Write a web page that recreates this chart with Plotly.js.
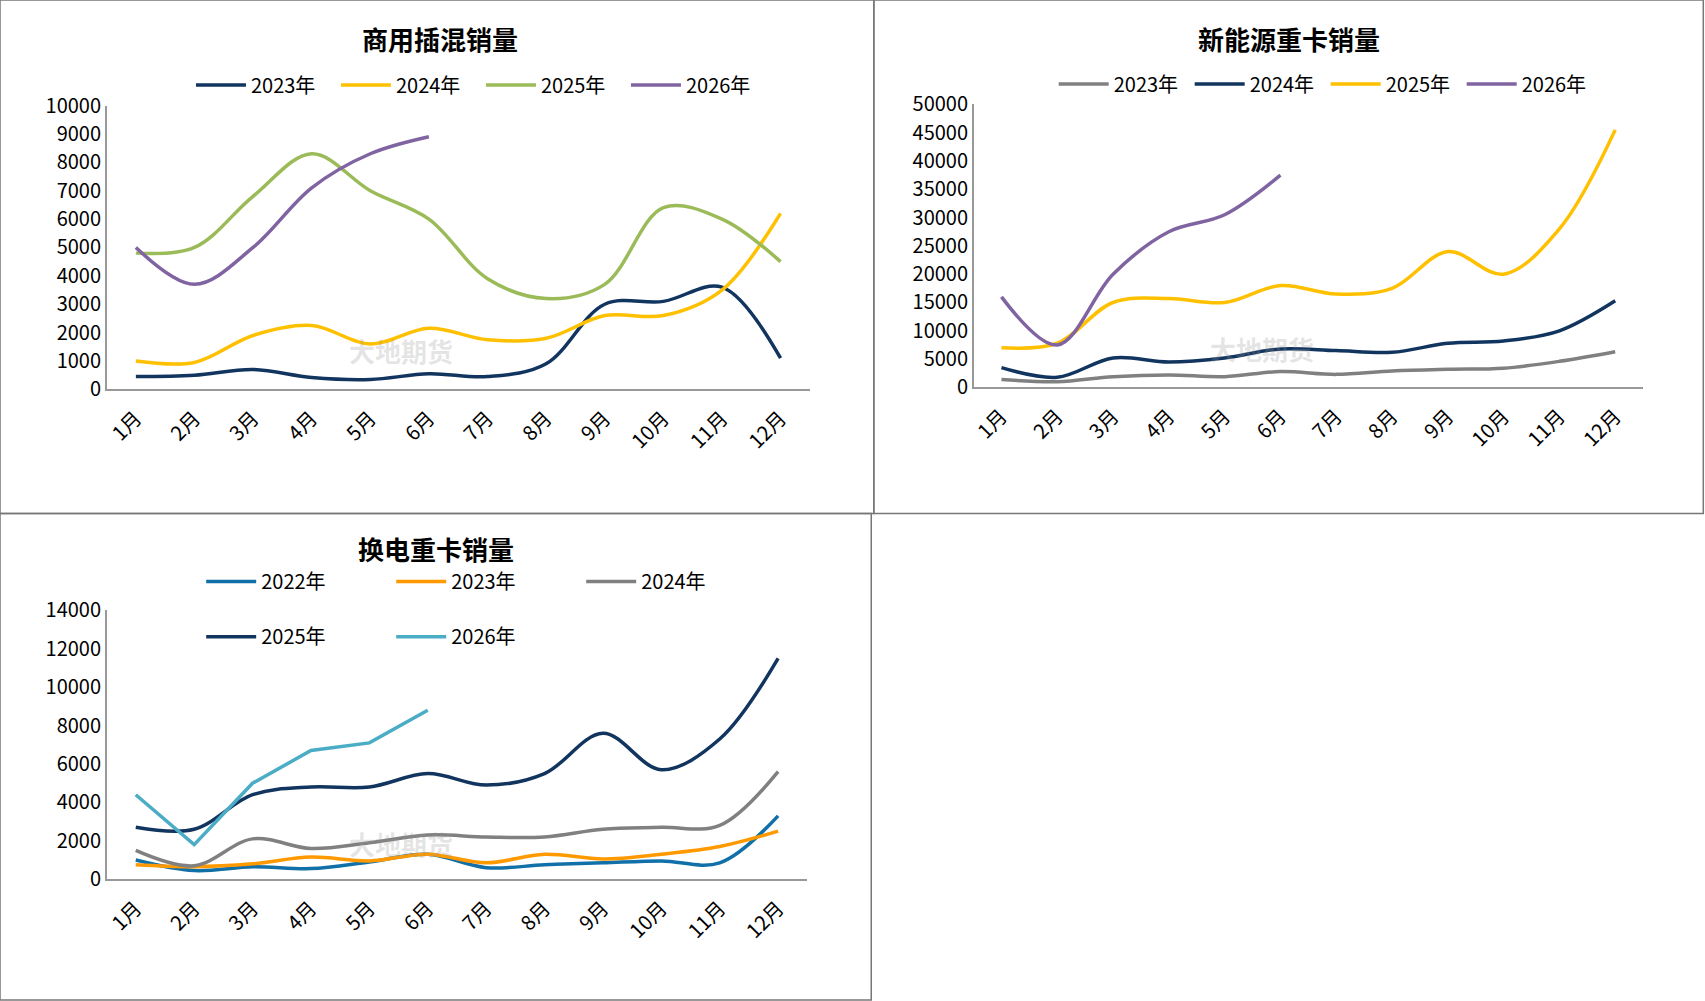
<!doctype html>
<html>
<head>
<meta charset="utf-8">
<script src="https://cdn.plot.ly/plotly-3.0.1.min.js"></script>
<style>body{margin:0;background:#fff}</style>
</head>
<body>
<div id="chart" style="width:1705px;height:1001px"></div>
<script>
var months = ['1月','2月','3月','4月','5月','6月','7月','8月','9月','10月','11月','12月'];

// 商用插混销量
var phev2023 = [450, 500, 700, 420, 350, 550, 450, 900, 3000, 3100, 3600, 1100];
var phev2024 = [1000, 950, 1900, 2250, 1600, 2150, 1750, 1800, 2600, 2600, 3500, 6200];
var phev2025 = [4800, 5000, 6800, 8300, 7000, 6000, 3900, 3200, 3700, 6400, 6000, 4500];
var phev2026 = [5000, 3700, 5000, 7100, 8300, 8900];

// 新能源重卡销量
var nev2023 = [1400, 1000, 1900, 2200, 1900, 2800, 2300, 2900, 3200, 3400, 4600, 6300];
var nev2024 = [3500, 1800, 5200, 4500, 5200, 6800, 6500, 6200, 7800, 8200, 10000, 15300];
var nev2025 = [7000, 7800, 15000, 15700, 15000, 18000, 16500, 17500, 24000, 20000, 28000, 45500];
var nev2026 = [16000, 7500, 20000, 27500, 30500, 37500];

// 换电重卡销量
var swap2022 = [1000, 450, 650, 550, 900, 1300, 600, 750, 850, 950, 850, 3300];
var swap2023 = [750, 650, 800, 1150, 950, 1300, 850, 1300, 1050, 1300, 1700, 2500];
var swap2024 = [1500, 700, 2100, 1600, 1900, 2300, 2200, 2200, 2600, 2700, 2800, 5600];
var swap2025 = [2700, 2600, 4400, 4800, 4800, 5500, 4900, 5500, 7600, 5700, 7300, 11500];
var swap2026 = [4400, 1800, 5000, 6700, 7100, 8800];

var NAVY = '#12355f', GOLD = '#ffc000', GREEN = '#9bbb59', PURPLE = '#8064a2', GREY = '#808080';

function tr(name, y, color, xa, ya, leg, shape) {
  return {x: months.slice(0, y.length), y: y, name: name, type: 'scatter', mode: 'lines',
    line: {color: color, width: 3.5, shape: shape || 'spline', smoothing: 1},
    xaxis: xa, yaxis: ya, legend: leg};
}

var data = [
  tr('2023年', phev2023, NAVY, 'x', 'y', 'legend'),
  tr('2024年', phev2024, GOLD, 'x', 'y', 'legend'),
  tr('2025年', phev2025, GREEN, 'x', 'y', 'legend'),
  tr('2026年', phev2026, PURPLE, 'x', 'y', 'legend'),
  tr('2023年', nev2023, GREY, 'x2', 'y2', 'legend2'),
  tr('2024年', nev2024, NAVY, 'x2', 'y2', 'legend2'),
  tr('2025年', nev2025, GOLD, 'x2', 'y2', 'legend2'),
  tr('2026年', nev2026, PURPLE, 'x2', 'y2', 'legend2'),
  tr('2022年', swap2022, '#1170a8', 'x3', 'y3', 'legend3'),
  tr('2023年', swap2023, '#ff9900', 'x3', 'y3', 'legend3'),
  tr('2024年', swap2024, GREY, 'x3', 'y3', 'legend3'),
  tr('2025年', swap2025, NAVY, 'x3', 'y3', 'legend4'),
  tr('2026年', swap2026, '#4bacc6', 'x3', 'y3', 'legend4', 'linear')
];

var F = 'Noto Sans CJK SC, sans-serif';
function xax(dom, anchor) {
  return {domain: dom, anchor: anchor, type: 'category', range: [-0.5, 11.5], tickangle: -45,
    showline: true, linecolor: '#999', linewidth: 1.5, showgrid: false, ticks: '',
    ticklabelstandoff: 8, tickfont: {size: 20, color: '#000'}, automargin: false};
}
function yax(dom, anchor, max, dtick) {
  return {domain: dom, anchor: anchor, range: [0, max], dtick: dtick, tickformat: 'd', showline: true,
    linecolor: '#999', linewidth: 1.5, showgrid: false, zeroline: false, ticks: '',
    tickfont: {size: 20, color: '#000'}, automargin: false};
}
function leg(x, y, ew) {
  return {orientation: 'h', x: x, y: y, xanchor: 'left', yanchor: 'middle',
    font: {size: 20, color: '#000'}, entrywidth: ew, entrywidthmode: 'pixels', itemwidth: 50,
    bgcolor: 'rgba(0,0,0,0)', tracegroupgap: 0};
}
function box(x0, y0, x1, y1) {
  return {type: 'rect', xref: 'paper', yref: 'paper', x0: x0, y0: y0, x1: x1, y1: y1,
    line: {color: '#777', width: 1.5}};
}
function note(text, x, y, size, color, bold) {
  return {text: bold ? '<b>' + text + '</b>' : text, x: x, y: y, xref: 'paper', yref: 'paper',
    xanchor: 'center', yanchor: 'middle',
    showarrow: false, font: {size: size, color: color, family: F}};
}

var layout = {
  width: 1705, height: 1001, margin: {l: 0, r: 0, t: 0, b: 0, autoexpand: false},
  paper_bgcolor: '#fff', plot_bgcolor: 'rgba(0,0,0,0)',
  font: {family: F, color: '#000'},
  xaxis: xax([0.0625, 0.475], 'y'),
  yaxis: yax([0.611, 0.8946], 'x', 10000, 1000),
  xaxis2: xax([0.571, 0.9637], 'y2'),
  yaxis2: yax([0.613, 0.8957], 'x2', 50000, 5000),
  xaxis3: xax([0.0625, 0.4735], 'y3'),
  yaxis3: yax([0.1217, 0.3902], 'x3', 14000, 2000),
  legend: leg(0.112, 0.915, 80),
  legend2: leg(0.618, 0.916, 71),
  legend3: leg(0.118, 0.419, 125),
  legend4: leg(0.118, 0.364, 125),
  shapes: [box(0, 0.487, 0.5125, 1), box(0.5125, 0.487, 0.999, 1), box(0, 0.001, 0.511, 0.487)],
  annotations: [
    note('商用插混销量', 0.258, 0.962, 26, '#000', true),
    note('新能源重卡销量', 0.756, 0.962, 26, '#000', true),
    note('换电重卡销量', 0.256, 0.452, 26, '#000', true),
    note('大地期货', 0.235, 0.65, 26, 'rgba(150,150,150,0.25)', true),
    note('大地期货', 0.74, 0.652, 26, 'rgba(150,150,150,0.25)', true),
    note('大地期货', 0.235, 0.157, 26, 'rgba(150,150,150,0.25)', true)
  ]
};

Plotly.newPlot('chart', data, layout, {staticPlot: true});
</script>
</body>
</html>
